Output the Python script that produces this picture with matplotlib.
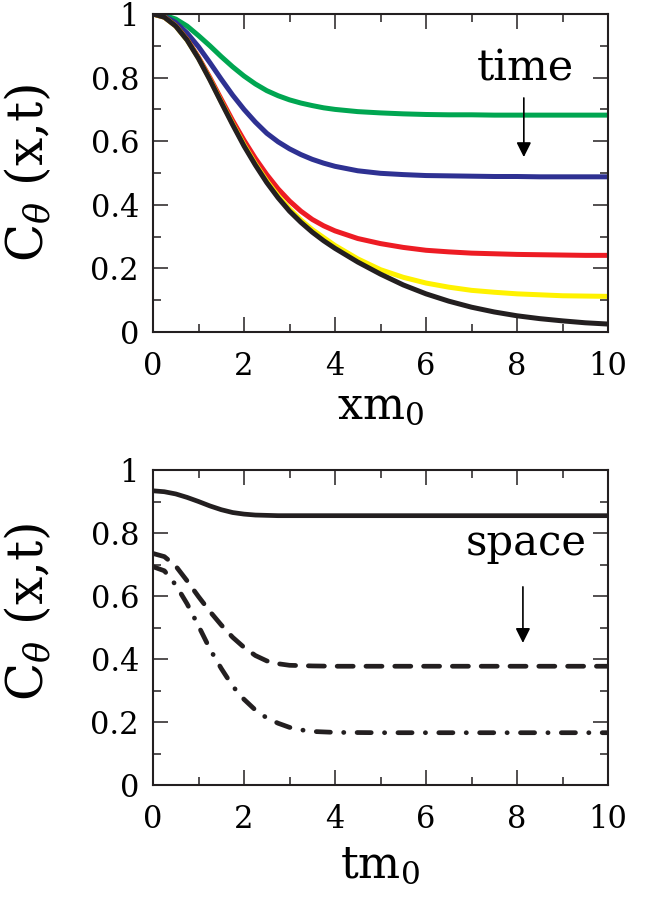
import numpy as np
import matplotlib
matplotlib.use("Agg")
import matplotlib.pyplot as plt
from matplotlib.ticker import MultipleLocator, FuncFormatter

plt.rcParams['font.family'] = ['DejaVu Serif']
plt.rcParams['mathtext.fontset'] = 'dejavuserif'

# ---------------- data: top panel (C vs x m0, several times) ----------------
x_top = [0, 0.25, 0.5, 0.75, 1.0, 1.25, 1.5, 1.75, 2.0, 2.25, 2.5, 2.75, 3.0,
         3.25, 3.5, 3.75, 4.0, 4.5, 5.0, 5.5, 6.0, 6.5, 7.0, 7.5, 8.0, 8.5,
         9.0, 9.5, 10.0]
c_green = [1.0, 0.996, 0.984, 0.962, 0.932, 0.900, 0.866, 0.834, 0.805, 0.780, 0.759,
           0.743, 0.730, 0.720, 0.712, 0.705, 0.700, 0.693, 0.689, 0.686, 0.684,
           0.683, 0.683, 0.682, 0.682, 0.682, 0.682, 0.682, 0.682]
c_blue = [1.0, 0.993, 0.973, 0.940, 0.897, 0.847, 0.795, 0.745, 0.700, 0.660, 0.625,
          0.598, 0.576, 0.558, 0.543, 0.531, 0.521, 0.507, 0.499, 0.495, 0.492,
          0.491, 0.490, 0.489, 0.489, 0.488, 0.488, 0.488, 0.488]
c_red = [1.0, 0.990, 0.963, 0.920, 0.864, 0.800, 0.732, 0.665, 0.603, 0.546, 0.495,
         0.450, 0.412, 0.380, 0.354, 0.334, 0.318, 0.294, 0.278, 0.266, 0.257,
         0.252, 0.248, 0.246, 0.244, 0.243, 0.242, 0.241, 0.241]
c_yellow = [1.0, 0.990, 0.962, 0.918, 0.861, 0.795, 0.724, 0.655, 0.589, 0.529, 0.475,
            0.428, 0.387, 0.352, 0.322, 0.297, 0.272, 0.230, 0.196, 0.172, 0.154,
            0.141, 0.131, 0.125, 0.120, 0.117, 0.114, 0.113, 0.112]
c_black = [1.0, 0.990, 0.962, 0.918, 0.860, 0.793, 0.722, 0.652, 0.585, 0.525, 0.470,
           0.422, 0.380, 0.345, 0.314, 0.287, 0.263, 0.220, 0.182, 0.148, 0.120,
           0.097, 0.078, 0.063, 0.051, 0.042, 0.035, 0.029, 0.025]

# ---------------- data: bottom panel (C vs t m0, several distances) ----------------
t_bot = [0, 0.25, 0.5, 0.75, 1.0, 1.25, 1.5, 1.75, 2.0, 2.25, 2.5, 2.75, 3.0,
         3.25, 3.5, 4.0, 5.0, 6.0, 7.0, 8.0, 9.0, 10.0]
c_solid = [0.934, 0.931, 0.924, 0.913, 0.900, 0.886, 0.874, 0.865, 0.860, 0.857, 0.856,
           0.855, 0.855, 0.855, 0.855, 0.855, 0.855, 0.855, 0.855, 0.855, 0.855, 0.855]
c_dashed = [0.735, 0.725, 0.695, 0.648, 0.598, 0.551, 0.508, 0.469, 0.437, 0.411, 0.394,
            0.385, 0.380, 0.379, 0.378, 0.377, 0.377, 0.377, 0.377, 0.377, 0.377, 0.377]
c_dashdot = [0.693, 0.680, 0.635, 0.575, 0.505, 0.432, 0.370, 0.314, 0.272, 0.238, 0.213,
             0.196, 0.183, 0.175, 0.170, 0.167, 0.166, 0.166, 0.166, 0.166, 0.166, 0.166]

top_colors = ['#00A651', '#2E3192', '#ED1C24', '#FFF200', '#231F20']
top_series = [c_green, c_blue, c_red, c_yellow, c_black]

x_ticks = [0, 2, 4, 6, 8, 10]
y_ticks = [0, 0.2, 0.4, 0.6, 0.8, 1.0]

fig = plt.figure(figsize=(6.52, 8.98), dpi=100)
ax1 = fig.add_axes([153/652, 1-332/898, 455/652, 318/898])
ax2 = fig.add_axes([153/652, 1-785/898, 455/652, 315/898])

LW = 3.6
for ys, col in zip(top_series, top_colors):
    ax1.plot(x_top, ys, color=col, lw=LW, solid_capstyle='butt')

lk = '#231F20'
ax2.plot(t_bot, c_solid, color=lk, lw=3.4, solid_capstyle='butt')
ax2.plot(t_bot, c_dashed, color=lk, lw=3.4, linestyle=(0, (3.4, 2.7)),
         dash_capstyle='round')
ax2.plot(t_bot, c_dashdot, color=lk, lw=3.4, linestyle=(0, (3.0, 2.8, 0.05, 2.8)),
         dash_capstyle='round')

def fmt(v, pos):
    if abs(v) < 1e-9:
        return '0'
    if abs(v - 1) < 1e-9:
        return '1'
    return '%g' % v

for ax, xl in ((ax1, 'xm$_0$'), (ax2, 'tm$_0$')):
    ax.set_xlim(0, 10)
    ax.set_ylim(0, 1)
    ax.set_xticks(x_ticks)
    ax.set_yticks(y_ticks)
    ax.xaxis.set_minor_locator(MultipleLocator(1))
    ax.yaxis.set_minor_locator(MultipleLocator(0.1))
    ax.xaxis.set_major_formatter(FuncFormatter(fmt))
    ax.yaxis.set_major_formatter(FuncFormatter(fmt))
    ax.tick_params(which='both', direction='in', top=True, right=True,
                   labelsize=22, width=1.1, color='#231F20')
    ax.tick_params(which='major', length=11)
    ax.tick_params(which='minor', length=6)
    ax.tick_params(axis='x', which='major', pad=14)
    ax.tick_params(axis='y', which='major', pad=10)
    for s in ax.spines.values():
        s.set_linewidth(1.5)
        s.set_color('#231F20')
    ax.set_xlabel(xl, fontsize=32)
    ax.set_ylabel(r'C$_\theta$ (x,t)', fontsize=36)

ax1.yaxis.set_label_coords(-0.215, 0.5)
ax2.yaxis.set_label_coords(-0.215, 0.55)
ax1.xaxis.set_label_coords(0.5, -0.165)
ax2.xaxis.set_label_coords(0.5, -0.188)

ax1.text(8.18, 0.79, 'time', fontsize=31, ha='center', va='baseline')
ax1.annotate('', xy=(8.15, 0.55), xytext=(8.15, 0.736),
             arrowprops=dict(arrowstyle='-|>', color='black', lw=1.2,
                             mutation_scale=22, shrinkA=0, shrinkB=0))
ax2.text(8.2, 0.73, 'space', fontsize=30, ha='center', va='baseline')
ax2.annotate('', xy=(8.13, 0.451), xytext=(8.13, 0.629),
             arrowprops=dict(arrowstyle='-|>', color='black', lw=1.2,
                             mutation_scale=22, shrinkA=0, shrinkB=0))

fig.savefig('out.png', dpi=100)
